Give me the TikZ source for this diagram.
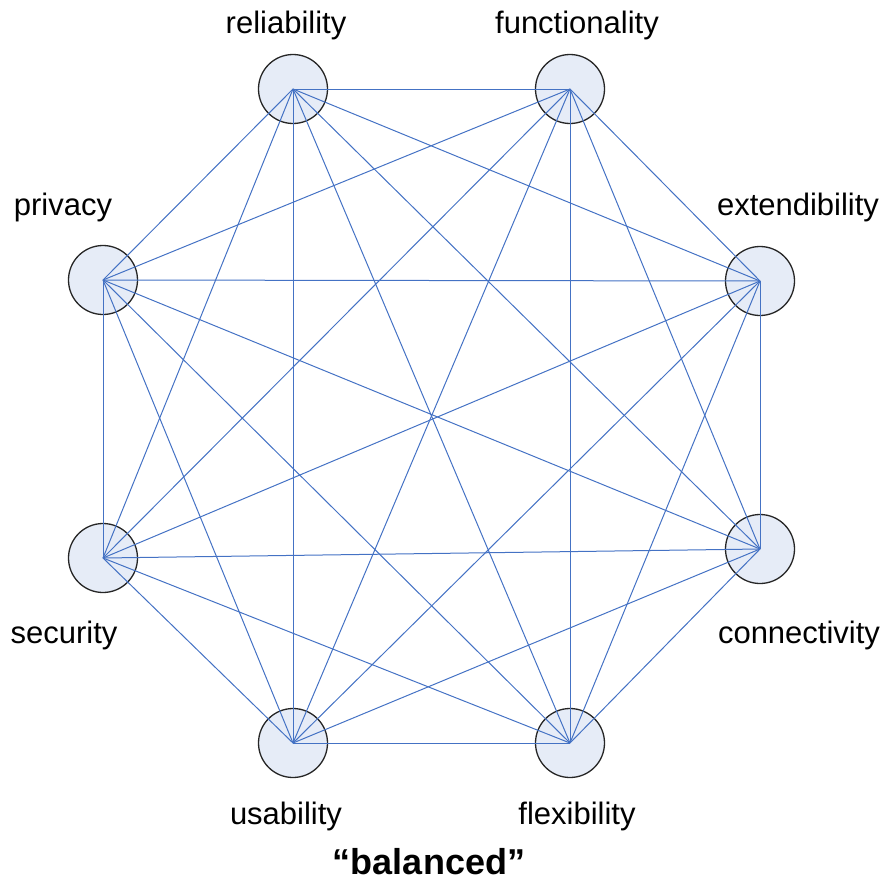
\documentclass[tikz,border=0pt]{standalone}
\usepackage{fontspec}
\setmainfont{Liberation Sans}
\usepackage{tikz}
\usetikzlibrary{positioning}

\definecolor{edgeblue}{RGB}{68,114,196}
\definecolor{qfill}{RGB}{230,236,247}

\begin{document}
\begin{tikzpicture}[x=1pt, y=-1pt,
        quality/.style = {
            circle,
            draw=black!85,
            line width=1.3pt,
            fill=qfill,
            minimum size=69pt,
            inner sep=0pt
        },
        qlabel/.style = {
            anchor=base,
            inner sep=0pt,
            font=\fontsize{31}{36}\selectfont
        },
        link/.style = {
            edgeblue,
            line width=1pt
        }  ]

        \useasboundingbox (0,0) rectangle (885,886);

        \node (reliability) [quality] at (293,89) {};
        \node (functionality) [quality] at (570,89) {};
        \node (extendibility) [quality] at (760,281) {};
        \node (connectivity) [quality] at (760,549) {};
        \node (flexibility) [quality] at (570,743) {};
        \node (usability) [quality] at (293,743) {};
        \node (security) [quality] at (103,558) {};
        \node (privacy) [quality] at (103,280) {};

        \node (reliability_label) [qlabel] at (286,33) {reliability};
        \node (functionality_label) [qlabel] at (577,33) {functionality};
        \node (extendibility_label) [qlabel] at (798,215) {extendibility};
        \node (privacy_label) [qlabel] at (63,215) {privacy};
        \node (security_label) [qlabel] at (64,643) {security};
        \node (connectivity_label) [qlabel] at (799,643) {connectivity};
        \node (usability_label) [qlabel] at (286,824) {usability};
        \node (flexibility_label) [qlabel] at (577,824) {flexibility};
        \node (balanced) [qlabel, font=\fontsize{36}{40}\selectfont\bfseries] at (429,874) {“balanced”};

        \draw[link] (reliability.center) -- (functionality.center);
        \draw[link] (reliability.center) -- (extendibility.center);
        \draw[link] (reliability.center) -- (connectivity.center);
        \draw[link] (reliability.center) -- (flexibility.center);
        \draw[link] (reliability.center) -- (usability.center);
        \draw[link] (reliability.center) -- (security.center);
        \draw[link] (reliability.center) -- (privacy.center);
        \draw[link] (functionality.center) -- (extendibility.center);
        \draw[link] (functionality.center) -- (connectivity.center);
        \draw[link] (functionality.center) -- (flexibility.center);
        \draw[link] (functionality.center) -- (usability.center);
        \draw[link] (functionality.center) -- (security.center);
        \draw[link] (functionality.center) -- (privacy.center);
        \draw[link] (extendibility.center) -- (connectivity.center);
        \draw[link] (extendibility.center) -- (flexibility.center);
        \draw[link] (extendibility.center) -- (usability.center);
        \draw[link] (extendibility.center) -- (security.center);
        \draw[link] (extendibility.center) -- (privacy.center);
        \draw[link] (connectivity.center) -- (flexibility.center);
        \draw[link] (connectivity.center) -- (usability.center);
        \draw[link] (connectivity.center) -- (security.center);
        \draw[link] (connectivity.center) -- (privacy.center);
        \draw[link] (flexibility.center) -- (usability.center);
        \draw[link] (flexibility.center) -- (security.center);
        \draw[link] (flexibility.center) -- (privacy.center);
        \draw[link] (usability.center) -- (security.center);
        \draw[link] (usability.center) -- (privacy.center);
        \draw[link] (security.center) -- (privacy.center);
    \end{tikzpicture}
\end{document}
